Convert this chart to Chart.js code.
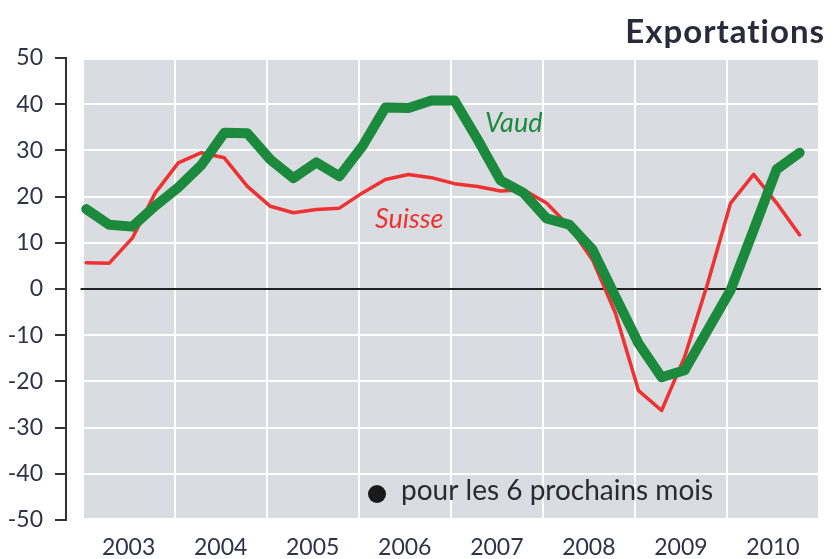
<!DOCTYPE html>
<html>
<head>
<meta charset="utf-8">
<script src="https://cdn.jsdelivr.net/npm/chart.js@4.4.1/dist/chart.umd.min.js"></script>
<style>
  html, body { margin: 0; padding: 0; background: #fff; }
  #wrap { width: 833px; height: 559px; }
</style>
</head>
<body>
<div id="wrap"><canvas id="exportChart"></canvas></div>
<script>
// annees affichees sur l'axe, une valeur par trimestre pour chaque serie
const annees = [2003, 2004, 2005, 2006, 2007, 2008, 2009, 2010];
const vaud = [
    17.3, 13.9, 13.5, 18.0,  22.0, 26.8, 33.8, 33.7,
    28.0, 24.0, 27.4, 24.4,  30.9, 39.3, 39.2, 40.8,
    40.8, 32.4, 23.5, 20.8,  15.3, 13.9,  8.5, -1.7,
   -11.8, -19.1, -17.6, -8.9, -0.2, 12.8, 25.9, 29.5
];
const suisse = [
     5.7,  5.6, 11.0, 20.8,  27.3, 29.5, 28.4, 22.2,
    17.9, 16.5, 17.2, 17.5,  20.8, 23.7, 24.8, 24.1,
    22.8, 22.2, 21.2, 21.5,  18.6, 13.5,  6.3, -5.3,
   -22.0, -26.3, -14.7,  1.2, 18.6, 24.8, 18.6, 11.7
];
const yMin = -50;
const yMax = 50;
const yStep = 10;

// points places juste apres le debut de chaque trimestre
const decalage = 0.04;
const trimestres = [];
annees.forEach(a => [0, 1, 2, 3].forEach(q => trimestres.push(a + q / 4 + decalage)));

const vert = '#1b8a3c';
const rouge = '#ee3232';
const texte = '#2f3346';

const decor = {
    id: 'decor',
    beforeDraw(chart) {
        const { ctx, chartArea, scales: { x, y } } = chart;
        const left = x.getPixelForValue(annees[0]);
        const top = y.getPixelForValue(yMax) + 2;
        const bottom = y.getPixelForValue(yMin) - 2;
        ctx.save();
        ctx.fillStyle = '#d9dce0';
        ctx.fillRect(left, top, chartArea.right - left, bottom - top);
        ctx.restore();
    },
    beforeDatasetsDraw(chart) {
        const { ctx, chartArea, scales: { x, y } } = chart;
        const y0 = y.getPixelForValue(0);
        ctx.save();
        ctx.strokeStyle = '#222';
        ctx.lineWidth = 2;
        ctx.beginPath();
        ctx.moveTo(x.getPixelForValue(annees[0]) - 2, y0);
        ctx.lineTo(chartArea.right + 2, y0);
        ctx.stroke();
        ctx.restore();
    },
    afterDraw(chart) {
        const { ctx, chartArea } = chart;
        ctx.save();
        // titre
        ctx.fillStyle = '#2a2a3a';
        ctx.font = 'bold 33px Lato';
        ctx.letterSpacing = '1px';
        ctx.textAlign = 'right';
        ctx.textBaseline = 'alphabetic';
        ctx.fillText('Exportations', chartArea.right + 6, 43);
        ctx.letterSpacing = '0px';

        // noms des series
        ctx.textAlign = 'left';
        ctx.font = 'italic 27px Lato';
        ctx.fillStyle = vert;
        ctx.fillText('Vaud', 485, 132);
        ctx.fillStyle = rouge;
        ctx.fillText('Suisse', 375, 228);

        // note en bas
        ctx.fillStyle = '#1a1a1a';
        ctx.beginPath();
        ctx.arc(377, 494, 9, 0, Math.PI * 2);
        ctx.fill();
        ctx.fillStyle = '#2a2a30';
        ctx.font = '28px Lato';
        ctx.fillText('pour les 6 prochains mois', 401, 500);
        ctx.restore();
    }
};

const ctx = document.getElementById('exportChart').getContext('2d');
const exportChart = new Chart(ctx, {
    type: 'line',
    data: {
        datasets: [{
            label: 'Vaud',
            data: trimestres.map((t, i) => ({ x: t, y: vaud[i] })),
            borderColor: vert,
            borderWidth: 10,
            borderJoinStyle: 'round',
            borderCapStyle: 'round',
            pointRadius: 0,
            tension: 0
        }, {
            label: 'Suisse',
            data: trimestres.map((t, i) => ({ x: t, y: suisse[i] })),
            borderColor: rouge,
            borderWidth: 3.5,
            borderJoinStyle: 'round',
            borderCapStyle: 'round',
            pointRadius: 0,
            tension: 0
        }]
    },
    options: {
        responsive: true,
        maintainAspectRatio: false,
        animation: false,
        layout: {
            padding: { top: 58, right: 6, left: 0, bottom: 0 }
        },
        scales: {
            x: {
                type: 'linear',
                min: 2002.82,
                max: annees[annees.length - 1] + 1,
                afterBuildTicks: axis => {
                    const ticks = [];
                    annees.forEach(a => {
                        ticks.push({ value: a });
                        ticks.push({ value: a + 0.5 });
                    });
                    ticks.push({ value: annees[annees.length - 1] + 1 });
                    axis.ticks = ticks;
                },
                afterFit: axis => { axis.height = 39; },
                border: { display: false },
                grid: {
                    color: c => Number.isInteger(c.tick.value) ? '#ffffff' : 'rgba(0,0,0,0)',
                    lineWidth: 2,
                    drawTicks: false
                },
                ticks: {
                    autoSkip: false,
                    maxRotation: 0,
                    padding: 14,
                    color: texte,
                    font: { family: 'Lato', size: 23 },
                    callback: v => Number.isInteger(v) ? '' : String(Math.floor(v))
                }
            },
            y: {
                min: yMin,
                max: yMax,
                afterFit: axis => { axis.width = 66; },
                border: { display: true, color: '#333', width: 2 },
                grid: {
                    color: '#ffffff',
                    lineWidth: 2,
                    tickColor: '#333',
                    tickLength: 11,
                    tickWidth: 2
                },
                ticks: {
                    stepSize: yStep,
                    padding: 12,
                    color: texte,
                    font: { family: 'Lato', size: 23 }
                }
            }
        },
        plugins: {
            legend: { display: false },
            title: { display: false },
            tooltip: { enabled: false }
        }
    },
    plugins: [decor]
});
</script>
</body>
</html>
